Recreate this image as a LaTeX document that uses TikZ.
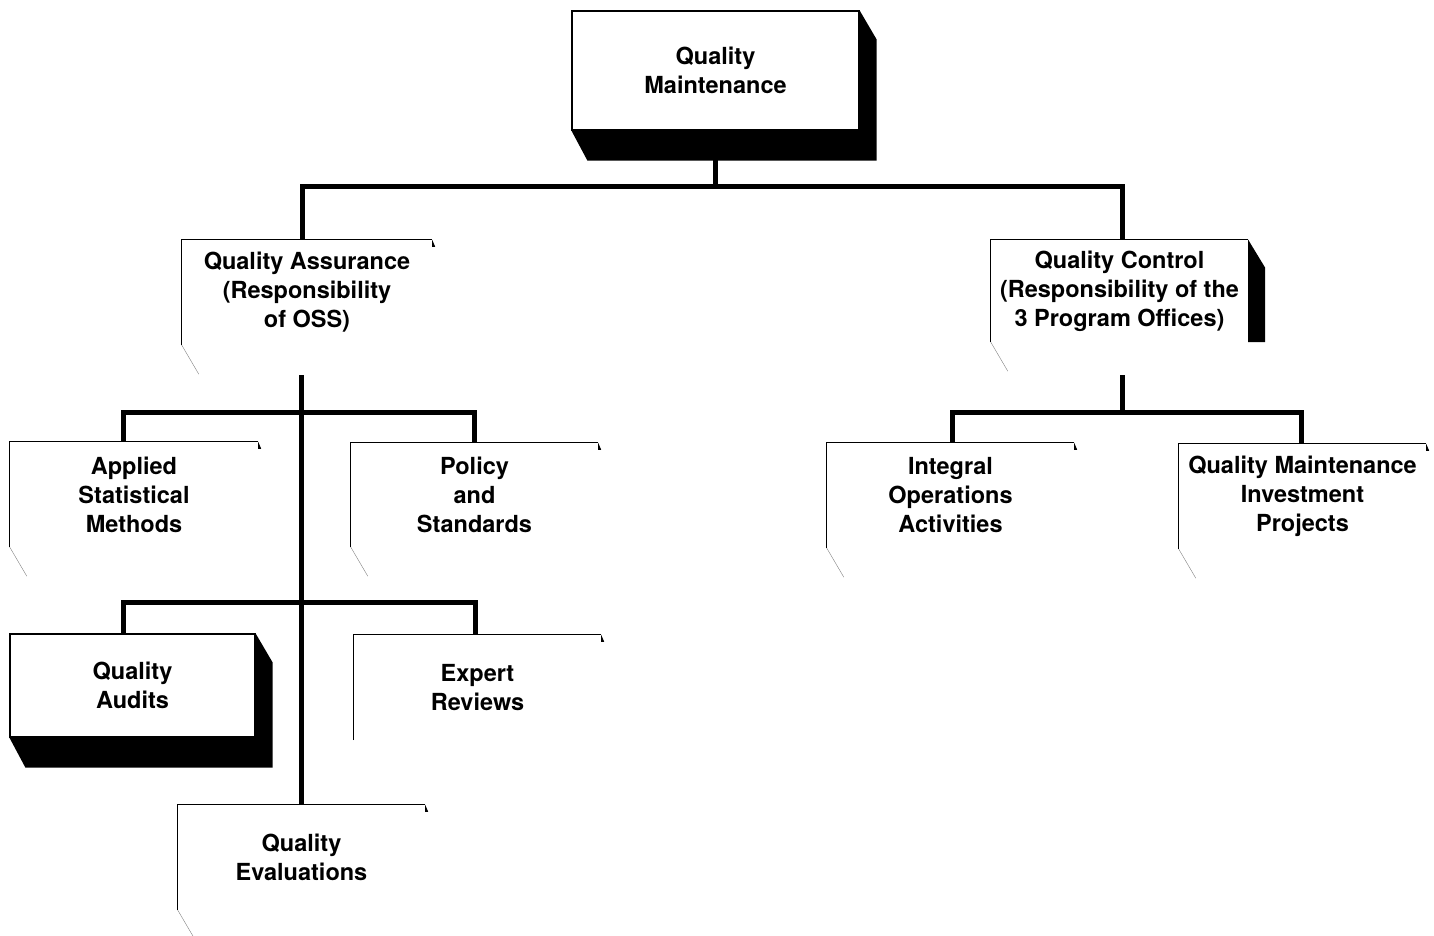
\documentclass[tikz,border=0pt]{standalone}
\usepackage{fontspec}
\setmainfont{TeX Gyre Heros}
\tikzset{
	qbox/.style={align=center,inner sep=0pt,font=\bfseries\fontsize{23.5}{29}\selectfont},
	solid box/.style={qbox,draw,line width=1.2pt},
	conn/.style={line width=5pt},
	rim/.style={line width=1.2pt},
	trace/.style={gray,line width=0.4pt}
}
\begin{document}
\begin{tikzpicture}[x=1pt,y=-1pt]
		\useasboundingbox (0,0) rectangle (1434,936);
		\node[solid box,minimum width=287pt,minimum height=119pt] (qm) at (715.5,70.5) {Quality\\Maintenance};
		\node[qbox,minimum width=250pt,minimum height=105pt] (qa) at (307,292.5) {Quality Assurance\\(Responsibility\\of OSS)};
		\node[qbox,minimum width=257pt,minimum height=102pt] (qc) at (1119.5,291) {Quality Control\\(Responsibility of the\\3 Program Offices)};
		\node[qbox,minimum width=248pt,minimum height=105pt] (asm) at (134,494.5) {Applied\\Statistical\\Methods};
		\node[qbox,minimum width=247pt,minimum height=104pt] (ps) at (474.5,495) {Policy\\and\\Standards};
		\node[solid box,minimum width=245pt,minimum height=103pt] (qau) at (132.5,685.5) {Quality\\Audits};
		\node[qbox,minimum width=247pt,minimum height=105pt] (er) at (477.5,687.5) {Expert\\Reviews};
		\node[qbox,minimum width=247pt,minimum height=105pt] (qe) at (301.5,857.5) {Quality\\Evaluations};
		\node[qbox,minimum width=247pt,minimum height=105pt] (iop) at (950.5,495.5) {Integral\\Operations\\Activities};
		\node[qbox,minimum width=247pt,minimum height=105pt] (qmi) at (1302.5,496.5) {Quality Maintenance\\Investment\\Projects};
		\foreach \n in {qm,qau}
			\fill (\n.north east) -- ++(17,29) -- ([shift={(17,30)}]\n.south east) -- ([shift={(16,30)}]\n.south west) -- (\n.south west) -- (\n.south east) -- cycle;
		\foreach \n in {qa,qc,asm,ps,er,qe,iop,qmi} {
			\draw[rim] (\n.south west) -- (\n.north west) -- (\n.north east);
			\fill (\n.north east) -- ++(3,7) -- ++(-3,0) -- cycle;
		}
		\foreach \n in {qa,qc,asm,ps,qe,iop,qmi}
			\draw[trace] (\n.south west) -- ++(17,29);
		\fill (qc.north east) -- ++(17,28) -- ([xshift=17pt]qc.south east) -- (qc.south east) -- cycle;
		\draw[conn] (qm.south) -- ++(0,57);
		\draw[conn] ([xshift=-5pt]qa.north) -- ++(0,-53) -| ([xshift=2.5pt]qc.north);
		\draw[conn] (qe.north) -- ++(0,-430);
		\draw[conn] ([xshift=-11pt]asm.north) -- ++(0,-29) -| (ps.north);
		\draw[conn] ([xshift=-9.5pt]qau.north) -- ++(0,-31) -| ([xshift=-2.5pt]er.north);
		\draw[conn] ([xshift=2.5pt]qc.south) ++(0,33) -- ++(0,38);
		\draw[conn] ([xshift=1.5pt]iop.north) -- ++(0,-30) -| ([xshift=-1.5pt]qmi.north);
	\end{tikzpicture}
\end{document}
